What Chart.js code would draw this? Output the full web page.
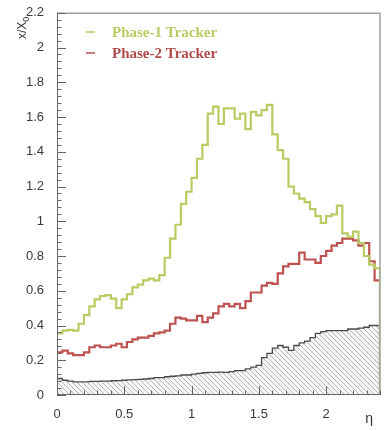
<!DOCTYPE html>
<html>
<head>
<meta charset="utf-8">
<script src="https://cdn.jsdelivr.net/npm/chart.js@4/dist/chart.umd.min.js"></script>
<style>
  html, body { margin: 0; padding: 0; background: #ffffff; }
  #wrap { width: 384px; height: 431px; position: relative; }
</style>
</head>
<body>
<div id="wrap"><canvas id="chart" width="384" height="431"></canvas></div>
<script>
// Material budget x/X0 versus pseudorapidity, histogrammed in eta bins of fixed width.
const BIN_WIDTH = 0.04;

const phase1Tracker = [
  0.355, 0.37, 0.375, 0.37, 0.41, 0.46, 0.51, 0.55, 0.57, 0.575,
  0.555, 0.50, 0.55, 0.58, 0.62, 0.635, 0.66, 0.67, 0.66, 0.69,
  0.79, 0.90, 0.98, 1.10, 1.17, 1.25, 1.36, 1.44, 1.62, 1.66,
  1.56, 1.65, 1.65, 1.59, 1.62, 1.53, 1.63, 1.61, 1.64, 1.67,
  1.50, 1.41, 1.36, 1.20, 1.16, 1.13, 1.11, 1.07, 1.03, 0.99,
  1.03, 1.04, 1.09, 0.93, 0.91, 0.94, 0.875, 0.80, 0.75, 0.73
];

const phase2Tracker = [
  0.245, 0.255, 0.24, 0.23, 0.23, 0.245, 0.275, 0.285, 0.275, 0.275,
  0.285, 0.295, 0.275, 0.305, 0.32, 0.33, 0.33, 0.34, 0.355, 0.36,
  0.37, 0.41, 0.445, 0.44, 0.43, 0.43, 0.455, 0.42, 0.445, 0.47,
  0.51, 0.525, 0.51, 0.525, 0.50, 0.54, 0.59, 0.59, 0.63, 0.645,
  0.64, 0.70, 0.74, 0.755, 0.755, 0.82, 0.78, 0.78, 0.76, 0.80,
  0.83, 0.86, 0.875, 0.90, 0.90, 0.89, 0.86, 0.875, 0.77, 0.66
];

const passiveMaterial = [
  0.095, 0.085, 0.08, 0.075, 0.075, 0.075, 0.078, 0.078, 0.08, 0.08,
  0.082, 0.083, 0.085, 0.087, 0.088, 0.09, 0.092, 0.095, 0.10, 0.10,
  0.105, 0.108, 0.11, 0.115, 0.115, 0.12, 0.125, 0.128, 0.13, 0.13,
  0.132, 0.13, 0.135, 0.14, 0.14, 0.15, 0.16, 0.17, 0.215, 0.24,
  0.27, 0.285, 0.275, 0.257, 0.285, 0.30, 0.31, 0.33, 0.355, 0.365,
  0.37, 0.37, 0.37, 0.37, 0.38, 0.38, 0.385, 0.39, 0.40, 0.40
];

const seriesLabels = ['Phase-1 Tracker', 'Phase-2 Tracker'];
const xTickValues = [0, 0.5, 1, 1.5, 2];
const yTickValues = [0, 0.2, 0.4, 0.6, 0.8, 1, 1.2, 1.4, 1.6, 1.8, 2, 2.2];
const X_MAX = 2.4;
const Y_MAX = 2.2;

const GREEN = '#b7cc62';
const RED = '#bd5250';
const DARK = '#4a4a4a';

// One point per bin at its lower edge, plus the closing edge back to zero.
function histPoints(values) {
  const pts = values.map((v, i) => ({ x: +(i * BIN_WIDTH).toFixed(3), y: v }));
  pts.push({ x: +(values.length * BIN_WIDTH).toFixed(3), y: 0 });
  return pts;
}

function hatchPattern() {
  const c = document.createElement('canvas');
  c.width = 5; c.height = 5;
  const g = c.getContext('2d');
  g.fillStyle = '#f6f6f6';
  g.fillRect(0, 0, 5, 5);
  g.strokeStyle = 'rgba(140,140,140,0.6)';
  g.lineWidth = 1;
  g.beginPath();
  g.moveTo(-1, -1); g.lineTo(6, 6);
  g.moveTo(-6, -1); g.lineTo(1, 6);
  g.moveTo(4, -1); g.lineTo(11, 6);
  g.stroke();
  const ctx = document.getElementById('chart').getContext('2d');
  return ctx.createPattern(c, 'repeat');
}

// Frame, inward ROOT-style ticks, legend and axis titles.
const decorations = {
  id: 'decorations',
  afterDatasetsDraw(chart) {
    const { ctx, chartArea: a, scales } = chart;
    const xs = scales.x, ys = scales.y;
    ctx.save();

    // frame
    ctx.strokeStyle = '#a0a0a0';
    ctx.lineWidth = 1.5;
    ctx.beginPath();
    ctx.moveTo(a.left, a.top + 0.5);
    ctx.lineTo(a.right, a.top + 0.5);
    ctx.lineTo(a.right, a.bottom);
    ctx.stroke();

    // axes
    ctx.strokeStyle = '#666666';
    ctx.lineWidth = 1;
    ctx.beginPath();
    ctx.moveTo(a.left + 0.5, a.top);
    ctx.lineTo(a.left + 0.5, a.bottom);
    ctx.moveTo(a.left, a.bottom - 0.5);
    ctx.lineTo(a.right, a.bottom - 0.5);
    ctx.stroke();

    // y ticks: major every 0.2, minor every 0.04
    ctx.beginPath();
    for (let k = 0; k <= Math.round(Y_MAX / 0.04); k++) {
      const v = k * 0.04;
      const py = Math.round(ys.getPixelForValue(v)) + 0.5;
      const len = (k % 5 === 0) ? 9 : 4.5;
      ctx.moveTo(a.left, py);
      ctx.lineTo(a.left + len, py);
    }
    // x ticks: major every 0.5, minor every 0.1
    for (let k = 0; k <= Math.round(X_MAX / 0.1); k++) {
      const v = k * 0.1;
      const px = Math.round(xs.getPixelForValue(v)) + 0.5;
      const len = (k % 5 === 0) ? 9 : 4.5;
      ctx.moveTo(px, a.bottom);
      ctx.lineTo(px, a.bottom - len);
    }
    ctx.stroke();

    // legend
    const legendColors = [GREEN, '#b04a48'];
    ctx.font = 'bold 15px "Liberation Serif", "Times New Roman", serif';
    ctx.textBaseline = 'middle';
    ctx.textAlign = 'left';
    seriesLabels.forEach((label, i) => {
      const y = 32 + i * 21;
      ctx.strokeStyle = chart.data.datasets[i].borderColor;
      ctx.lineWidth = 1.5;
      ctx.beginPath();
      ctx.moveTo(86, y);
      ctx.lineTo(95, y);
      ctx.stroke();
      ctx.fillStyle = legendColors[i];
      ctx.fillText(label, 112, y + 1);
    });

    // y title x/X0, rotated, placed at the top end
    ctx.fillStyle = '#333333';
    ctx.translate(26, 39);
    ctx.rotate(-Math.PI / 2);
    ctx.textBaseline = 'alphabetic';
    ctx.font = '12px "Liberation Sans", Arial, sans-serif';
    ctx.fillText('x/X', 0, 0);
    const w = ctx.measureText('x/X').width;
    ctx.font = '9px "Liberation Sans", Arial, sans-serif';
    ctx.fillText('0', w, 3);
    ctx.setTransform(1, 0, 0, 1, 0, 0);

    // x title
    ctx.font = '14px "Liberation Sans", Arial, sans-serif';
    ctx.textAlign = 'right';
    ctx.textBaseline = 'middle';
    ctx.fillStyle = '#333333';
    ctx.fillText('\u03b7', 373, 419);

    ctx.restore();
  }
};

const tickFont = { family: '"Liberation Sans", Arial, sans-serif', size: 13 };

new Chart(document.getElementById('chart'), {
  type: 'line',
  data: {
    datasets: [
      {
        label: seriesLabels[0],
        data: histPoints(phase1Tracker),
        borderColor: GREEN,
        borderWidth: 2.2,
        stepped: 'before',
        pointRadius: 0,
        fill: false,
        order: 0
      },
      {
        label: seriesLabels[1],
        data: histPoints(phase2Tracker),
        borderColor: RED,
        borderWidth: 2.2,
        stepped: 'before',
        pointRadius: 0,
        fill: false,
        order: 1
      },
      {
        label: 'passive',
        data: histPoints(passiveMaterial),
        borderColor: DARK,
        borderWidth: 1.3,
        backgroundColor: hatchPattern(),
        stepped: 'before',
        pointRadius: 0,
        fill: 'origin',
        order: 2
      }
    ]
  },
  options: {
    responsive: false,
    animation: false,
    devicePixelRatio: 1,
    layout: { padding: { top: 11, right: 4, left: 0, bottom: 0 } },
    plugins: {
      legend: { display: false },
      tooltip: { enabled: false }
    },
    scales: {
      x: {
        type: 'linear',
        min: 0,
        max: X_MAX,
        grid: { display: false },
        border: { display: false },
        afterBuildTicks: (s) => { s.ticks = xTickValues.map(v => ({ value: v })); },
        afterFit: (s) => { s.height = 36; },
        ticks: {
          font: tickFont,
          color: '#3a3a3a',
          padding: 4,
          maxRotation: 0,
          autoSkip: false,
          callback: (v) => String(v)
        }
      },
      y: {
        type: 'linear',
        min: 0,
        max: Y_MAX,
        grid: { display: false },
        border: { display: false },
        afterBuildTicks: (s) => { s.ticks = yTickValues.map(v => ({ value: v })); },
        afterFit: (s) => { s.width = 57; },
        ticks: {
          font: tickFont,
          color: '#3a3a3a',
          padding: 5,
          autoSkip: false,
          callback: (v) => String(v)
        }
      }
    }
  },
  plugins: [decorations]
});
</script>
</body>
</html>
